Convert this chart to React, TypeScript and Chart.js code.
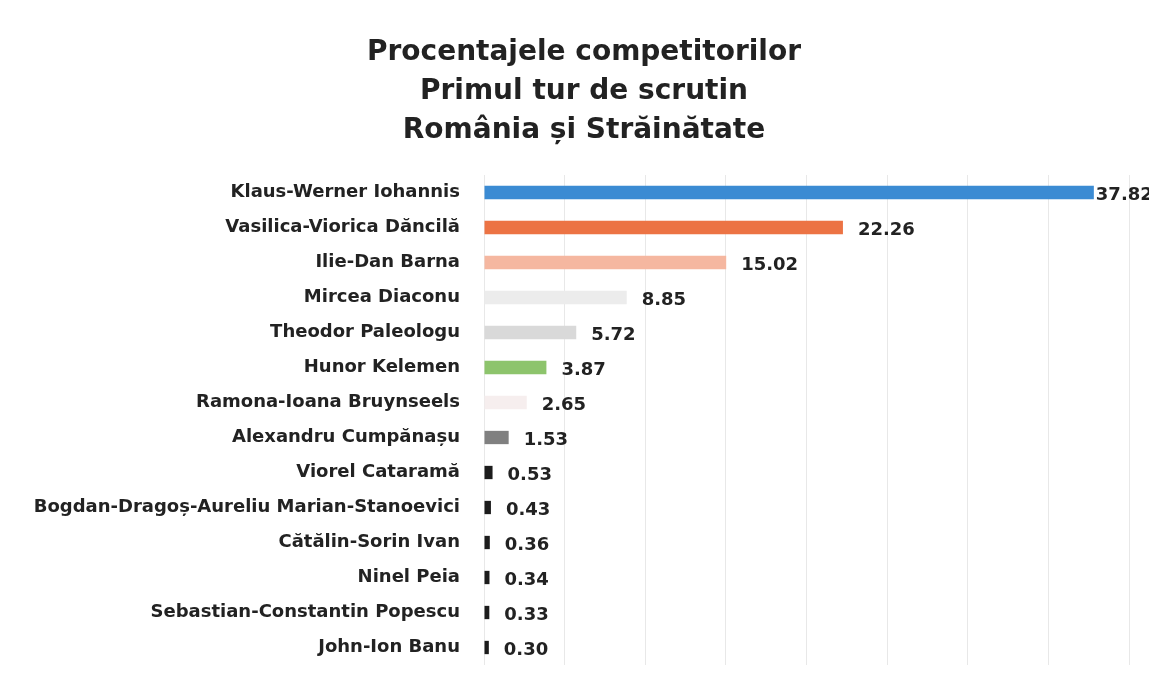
import React, { useEffect, useRef } from "react";
import { Chart, registerables } from "chart.js";
Chart.register(...registerables);

const titleLines = ["Procentajele competitorilor", "Primul tur de scrutin", "România și Străinătate"];
const candidates = [
  "Klaus-Werner Iohannis",
  "Vasilica-Viorica Dăncilă",
  "Ilie-Dan Barna",
  "Mircea Diaconu",
  "Theodor Paleologu",
  "Hunor Kelemen",
  "Ramona-Ioana Bruynseels",
  "Alexandru Cumpănașu",
  "Viorel Cataramă",
  "Bogdan-Dragoș-Aureliu Marian-Stanoevici",
  "Cătălin-Sorin Ivan",
  "Ninel Peia",
  "Sebastian-Constantin Popescu",
  "John-Ion Banu",
];
const percentages = [37.82, 22.26, 15.02, 8.85, 5.72, 3.87, 2.65, 1.53, 0.53, 0.43, 0.36, 0.34, 0.33, 0.3];
const barColors = [
  "#3b8bd3",
  "#ec7344",
  "#f5b7a0",
  "#ececec",
  "#d9d9d9",
  "#8dc46c",
  "#f6eeee",
  "#808080",
  "#1c1c1c",
  "#1c1c1c",
  "#1c1c1c",
  "#1c1c1c",
  "#1c1c1c",
  "#1c1c1c",
];

const FONT = "'DejaVu Sans', 'Open Sans', sans-serif";

const valueLabels = {
  id: "valueLabels",
  afterDatasetsDraw(chart: any) {
    const ctx = chart.ctx;
    const meta = chart.getDatasetMeta(0);
    ctx.save();
    ctx.font = `bold 18px ${FONT}`;
    ctx.fillStyle = "#222222";
    ctx.textBaseline = "middle";
    ctx.textAlign = "left";
    meta.data.forEach((bar: any, i: number) => {
      const txt = percentages[i].toFixed(2);
      const w = ctx.measureText(txt).width;
      let x = bar.x + 15;
      if (x + w > chart.width) x = bar.x + 2;
      ctx.fillText(txt, x, bar.y + 3);
    });
    ctx.restore();
  },
};

const titlePlugin = {
  id: "multiTitle",
  afterDraw(chart: any) {
    const ctx = chart.ctx;
    ctx.save();
    ctx.font = `bold 28px ${FONT}`;
    ctx.fillStyle = "#222222";
    ctx.textAlign = "center";
    ctx.textBaseline = "middle";
    const cx = 584;
    titleLines.forEach((line, i) => {
      ctx.fillText(line, cx, 53 + i * 39);
    });
    ctx.restore();
  },
};

export default function App() {
  const ref = useRef<HTMLCanvasElement>(null);
  useEffect(() => {
    document.body.style.margin = "0";
    const chart = new Chart(ref.current!, {
      type: "bar",
      data: {
        labels: candidates,
        datasets: [
          {
            data: percentages,
            backgroundColor: barColors,
            categoryPercentage: 1,
            barPercentage: 0.38,
          },
        ],
      },
      options: {
        indexAxis: "y",
        animation: false,
        responsive: false,
        layout: { padding: { left: 15, right: 20, top: 175, bottom: 19 } },
        plugins: {
          legend: { display: false },
          tooltip: { enabled: false },
          title: { display: false },
        },
        scales: {
          x: {
            min: 0,
            max: 40,
            ticks: { display: false, stepSize: 5 },
            grid: { color: "#e8e8e8", drawTicks: false },
            border: { display: false },
            afterFit(scale: any) {
              scale.height = 0;
            },
          },
          y: {
            grid: { display: false, drawTicks: false },
            border: { display: false },
            ticks: {
              color: "#222222",
              padding: 24,
              font: { family: FONT, size: 18, weight: "bold" },
            },
            afterFit(scale: any) {
              scale.width = 469;
              scale.paddingTop = 0;
              scale.paddingBottom = 0;
            },
          },
        },
      },
      plugins: [valueLabels, titlePlugin],
    });
    return () => chart.destroy();
  }, []);
  return (
    <div style={{ width: 1149, height: 684, background: "#fff" }}>
      <canvas ref={ref} width={1149} height={684} style={{ display: "block" }} />
    </div>
  );
}
